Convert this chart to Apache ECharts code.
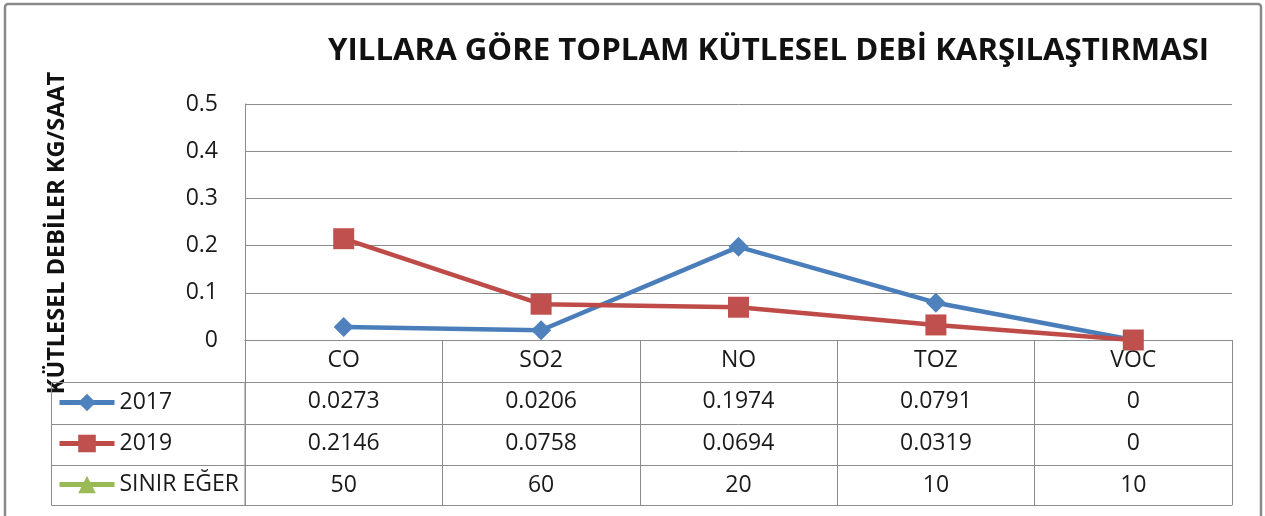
<!DOCTYPE html>
<html>
<head>
<meta charset="utf-8">
<script src="https://cdn.jsdelivr.net/npm/echarts@6/dist/echarts.min.js"></script>
<style>
html,body{margin:0;padding:0;background:#fff;}
#chart{width:1265px;height:516px;}
</style>
</head>
<body>
<div id="chart"></div>
<script>
// ---- data ----
var categories = ['CO', 'SO2', 'NO', 'TOZ', 'VOC'];
var seriesNames = ['2017', '2019', 'SINIR EĞER'];
var values2017 = [0.0273, 0.0206, 0.1974, 0.0791, 0];
var values2019 = [0.2146, 0.0758, 0.0694, 0.0319, 0];
var valuesLimit = [50, 60, 20, 10, 10];
var yTicks = [0, 0.1, 0.2, 0.3, 0.4, 0.5];
var chartTitle = 'YILLARA GÖRE TOPLAM KÜTLESEL DEBİ KARŞILAŞTIRMASI';
var yTitle = 'KÜTLESEL DEBİLER KG/SAAT';

var FONT = '"Open Sans", "Noto Sans", sans-serif';
var GRID = '#8c8c8c';
var colors = ['#4A7EBB', '#BE4B48', '#98B954'];
var markerColors = ['#4F81BD', '#C0504D', '#9BBB59'];
var seriesData = [values2017, values2019, valuesLimit];

var gridLeft = 245, gridRight = 33, gridTop = 104, gridBottomY = 340;
var rowOffsets = [0, 42, 84, 125, 165];
var labelMargins = [9, 8, 7.5, 8.5];
var FS = 23;

var chart = echarts.init(document.getElementById('chart'), null, {renderer: 'canvas'});

var xAxes = [];
for (var r = 0; r < 5; r++) {
  (function (r) {
    var rowVals = r === 0 ? null : seriesData[r - 1];
    xAxes.push({
      type: 'category',
      data: categories,
      position: 'bottom',
      offset: rowOffsets[r],
      boundaryGap: true,
      axisLine: {show: true, lineStyle: {color: GRID, width: 1}},
      axisTick: {
        show: r < 4,
        inside: false,
        length: r < 4 ? rowOffsets[r + 1] - rowOffsets[r] : 0,
        lineStyle: {color: GRID, width: 1}
      },
      axisLabel: {
        show: r < 4,
        interval: 0,
        margin: r < 4 ? labelMargins[r] : 0,
        fontFamily: FONT,
        fontSize: FS,
        lineHeight: 23,
        color: '#1a1a1a',
        formatter: function (v, i) {
          return r === 0 ? v : String(rowVals[i]);
        }
      },
      splitLine: {show: false}
    });
  })(r);
}

var series = seriesData.map(function (d, i) {
  return {
    name: seriesNames[i],
    type: 'line',
    data: d,
    xAxisIndex: 0,
    clip: true,
    symbol: ['diamond', 'rect', 'triangle'][i],
    symbolSize: [20, 21, 20][i],
    showSymbol: true,
    lineStyle: {color: colors[i], width: 4.5},
    itemStyle: {color: markerColors[i]},
    emphasis: {disabled: true},
    animation: false
  };
});

var option = {
  animation: false,
  title: {
    text: chartTitle,
    left: 323,
    top: 31,
    textStyle: {fontFamily: FONT, fontWeight: 'bold', fontSize: 31.2, color: '#111'}
  },
  grid: {
    left: gridLeft,
    right: gridRight,
    top: gridTop,
    bottom: 516 - gridBottomY,
    containLabel: false
  },
  legend: {
    orient: 'vertical',
    left: 57,
    top: 391,
    padding: 0,
    itemWidth: 55,
    itemHeight: 22,
    itemGap: 18,
    textStyle: {fontFamily: FONT, fontSize: FS, lineHeight: 23, color: '#1a1a1a'},
    lineStyle: {width: 5},
    selectedMode: false,
    data: seriesNames
  },
  xAxis: xAxes,
  yAxis: {
    type: 'value',
    min: yTicks[0],
    max: yTicks[yTicks.length - 1],
    interval: yTicks[1] - yTicks[0],
    axisLine: {show: true, lineStyle: {color: GRID}},
    axisTick: {show: false},
    axisLabel: {
      margin: 27,
      fontFamily: FONT,
      fontSize: FS,
      color: '#1a1a1a',
      formatter: function (v) { return String(v); }
    },
    splitLine: {show: true, lineStyle: {color: GRID, width: 1}}
  },
  graphic: [
    {
      type: 'rect', silent: true, z: -10,
      shape: {x: 5, y: 4, width: 1256, height: 530, r: 3},
      style: {fill: 'none', stroke: '#8a8a8a', lineWidth: 2.5}
    },
    {
      type: 'text', silent: true,
      x: 57, y: 233, rotation: Math.PI / 2,
      style: {
        text: yTitle, fontFamily: FONT, fontWeight: 'bold', fontSize: 23.5,
        fill: '#111', align: 'center', verticalAlign: 'middle'
      }
    },
    {
      type: 'rect', silent: true,
      shape: {x: 51.5, y: gridBottomY + rowOffsets[1] + 0.5, width: gridLeft - 51.5, height: rowOffsets[4] - rowOffsets[1]},
      style: {fill: 'none', stroke: GRID, lineWidth: 1}
    },
    {
      type: 'line', silent: true,
      shape: {x1: 51.5, y1: gridBottomY + rowOffsets[2] + 0.5, x2: gridLeft, y2: gridBottomY + rowOffsets[2] + 0.5},
      style: {stroke: GRID, lineWidth: 1}
    },
    {
      type: 'line', silent: true,
      shape: {x1: 51.5, y1: gridBottomY + rowOffsets[3] + 0.5, x2: gridLeft, y2: gridBottomY + rowOffsets[3] + 0.5},
      style: {stroke: GRID, lineWidth: 1}
    }
  ],
  series: series
};

chart.setOption(option);
</script>
</body>
</html>
